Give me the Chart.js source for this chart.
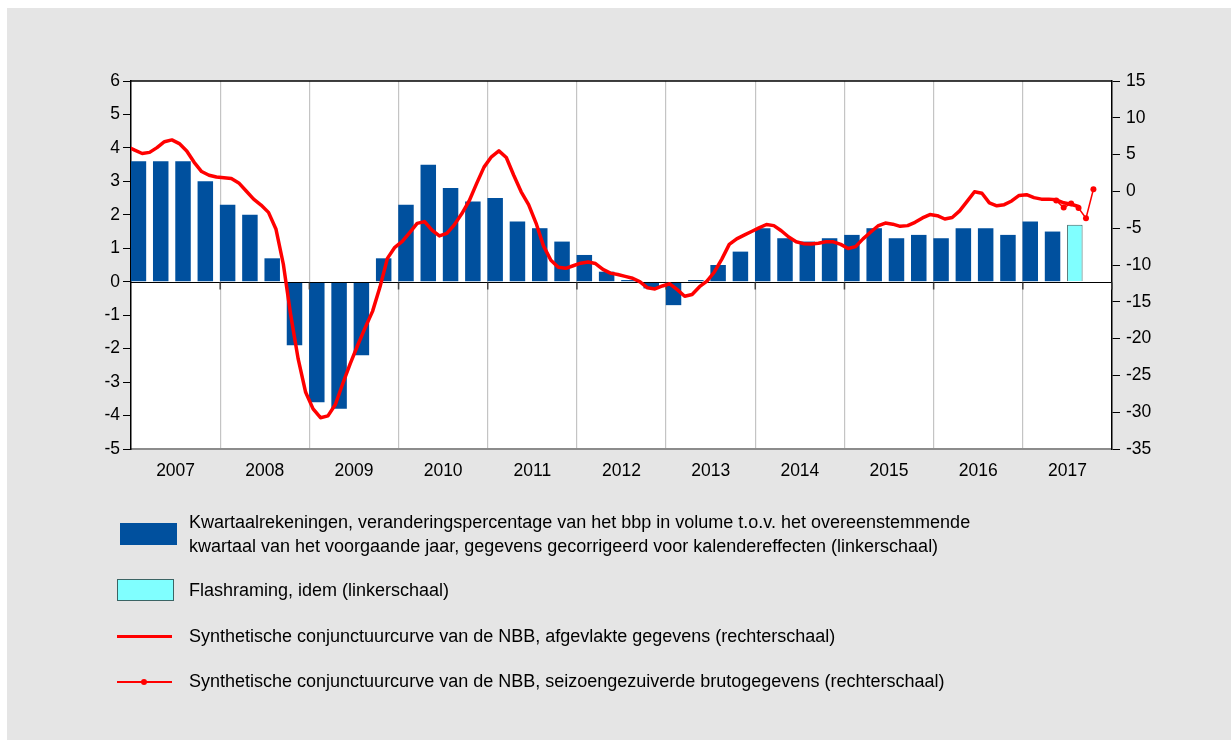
<!DOCTYPE html>
<html>
<head>
<meta charset="utf-8">
<script src="https://cdn.jsdelivr.net/npm/chart.js@4.4.1/dist/chart.umd.min.js"></script>
<style>
html,body{margin:0;padding:0;background:#fff;width:1231px;height:740px;overflow:hidden;font-family:"Liberation Sans",Arial,sans-serif;}
#panel{position:absolute;left:7px;top:8px;width:1224px;height:732px;background:#e5e5e5;}
#wrap{position:absolute;left:0;top:0;width:1231px;height:740px;}
#legend{position:absolute;left:0;top:0;width:1231px;height:740px;pointer-events:none;}
.sw{position:absolute;box-sizing:border-box;}
.lt{position:absolute;left:189px;font-size:18px;line-height:23.5px;color:#000;white-space:nowrap;}
</style>
</head>
<body>
<div id="panel"></div>
<div id="wrap"><canvas id="c" width="1231" height="740"></canvas></div>
<div id="legend">
  <div class="sw" style="left:120px;top:523px;width:57px;height:22px;background:#00509E;"></div>
  <div class="lt" style="top:511px;">Kwartaalrekeningen, veranderingspercentage van het bbp in volume t.o.v. het overeenstemmende<br>kwartaal van het voorgaande jaar, gegevens gecorrigeerd voor kalendereffecten (linkerschaal)</div>
  <div class="sw" style="left:117px;top:579px;width:57px;height:22px;background:#80FFFF;border:1px solid #3C6464;"></div>
  <div class="lt" style="top:579px;">Flashraming, idem (linkerschaal)</div>
  <div class="sw" style="left:117px;top:635px;width:55px;height:3px;background:#FF0000;"></div>
  <div class="lt" style="top:625px;">Synthetische conjunctuurcurve van de NBB, afgevlakte gegevens (rechterschaal)</div>
  <div class="sw" style="left:117px;top:681px;width:55px;height:1.5px;background:#FF0000;"></div>
  <div class="sw" style="left:141px;top:679px;width:6px;height:6px;border-radius:3px;background:#FF0000;"></div>
  <div class="lt" style="top:670px;">Synthetische conjunctuurcurve van de NBB, seizoengezuiverde brutogegevens (rechterschaal)</div>
</div>
<script>
// ---------- DATA ----------
const years = ['2007','2008','2009','2010','2011','2012','2013','2014','2015','2016','2017'];
const quarterNames = ['Q1','Q2','Q3','Q4'];
const quarterLabels = years.flatMap(y => quarterNames.map(q => y + q));

// Quarterly GDP growth y-o-y (%), 2007Q1 .. 2017Q2 (left scale)
const gdpGrowth = [3.6, 3.6, 3.6, 3.0,
                   2.3, 2.0, 0.7, -1.9,
                   -3.6, -3.8, -2.2, 0.7,
                   2.3, 3.5, 2.8, 2.4,
                   2.5, 1.8, 1.6, 1.2,
                   0.8, 0.3, 0.05, -0.2,
                   -0.7, 0.05, 0.5, 0.9,
                   1.6, 1.3, 1.2, 1.3,
                   1.4, 1.6, 1.3, 1.4,
                   1.3, 1.6, 1.6, 1.4,
                   1.8, 1.5];
// Flash estimate (left scale)
const flashQuarters = ['2017Q3'];
const flashValues = [1.7];

// NBB synthetic business cycle curve, smoothed, monthly from Dec 2006 (right scale)
const smoothedStart = '2006-12';
const smoothedValues = [
  6.1, 5.6, 5.15, 5.3, 5.95, 6.75, 7.0, 6.5, 5.5, 3.95, 2.7, 2.2, 1.95,
  1.85, 1.75, 1.15, 0.05, -1.05, -1.85, -2.85, -5.1, -9.9, -16.85, -22.8, -27.3,
  -29.55, -30.75, -30.5, -28.95, -26.1, -23.4, -20.9, -18.55, -16.3, -13.0, -9.1, -7.6,
  -6.8, -5.6, -4.35, -4.1, -5.25, -6.05, -5.7, -4.55, -3.05, -1.3, 1.05, 3.3,
  4.7, 5.5, 4.6, 2.2, -0.05, -1.8, -4.3, -7.4, -9.35, -10.3, -10.45, -10.1,
  -9.75, -9.6, -9.8, -10.6, -11.1, -11.3, -11.55, -11.8, -12.3, -13.1, -13.25, -12.85,
  -12.55, -13.35, -14.25, -14.0, -12.95, -12.2, -10.95, -9.2, -7.2, -6.45, -5.95, -5.45,
  -4.95, -4.5, -4.65, -5.35, -6.2, -6.85, -7.1, -7.15, -7.05, -6.85, -6.85, -7.2,
  -7.75, -7.5, -6.45, -5.55, -4.7, -4.3, -4.45, -4.75, -4.65, -4.2, -3.6, -3.15,
  -3.3, -3.75, -3.55, -2.65, -1.35, -0.05, -0.25, -1.55, -1.95, -1.8, -1.3, -0.55,
  -0.45, -0.85, -1.05, -1.05, -1.15, -1.55, -1.75, -2.05
];
// NBB curve, seasonally adjusted raw data, monthly from May 2017 (right scale)
const rawStart = '2017-05';
const rawValues = [-1.25, -2.2, -1.65, -2.25, -3.65, 0.3];

const leftTicks = {min: -5, max: 6, step: 1};
const rightTicks = {min: -35, max: 15, step: 5};

// ---------- helpers (x = months since Jan 2007) ----------
const baseYear = 2007;
function monthIndex(s){ const [y,m] = s.split('-').map(Number); return (y-baseYear)*12 + (m-1); }
function quarterX(label){ const y = Number(label.slice(0,4)); const q = Number(label.slice(5)); return (y-baseYear)*12 + (q-1)*3 + 1; }
function monthlyPoints(start, vals){ const m0 = monthIndex(start); return vals.map((v,i)=>({x: m0 + i + 0.5, y: v})); }

const gdpPts = gdpGrowth.map((v,i)=>({x: quarterX(quarterLabels[i]), y: v}));
const flashPts = flashValues.map((v,i)=>({x: quarterX(flashQuarters[i]), y: v}));
const smoothPts = monthlyPoints(smoothedStart, smoothedValues);
const rawPts = monthlyPoints(rawStart, rawValues);
const xMax = years.length * 12;

const FONT = '"Liberation Sans", Arial, sans-serif';

const framePlugin = {
  id: 'frame',
  beforeDraw(chart){
    const {ctx, chartArea} = chart;
    ctx.save();
    ctx.fillStyle = '#FFFFFF';
    ctx.fillRect(chartArea.left, chartArea.top, chartArea.right - chartArea.left, chartArea.bottom - chartArea.top);
    ctx.restore();
  },
  afterDatasetDraw(chart, args){
    if (args.index !== 3) return;
    const {ctx, chartArea} = chart;
    const yL = chart.scales.yL, x = chart.scales.x;
    const y0 = Math.round(yL.getPixelForValue(0)) + 0.5;
    ctx.save();
    ctx.strokeStyle = '#000';
    ctx.lineWidth = 1.2;
    ctx.beginPath(); ctx.moveTo(chartArea.left, y0); ctx.lineTo(chartArea.right, y0); ctx.stroke();
    ctx.strokeStyle = '#444';
    ctx.lineWidth = 1.5;
    for (let i = 1; i <= years.length; i++) {
      const px = x.getPixelForValue(12*i);
      ctx.beginPath(); ctx.moveTo(px, y0); ctx.lineTo(px, y0 + 7); ctx.stroke();
    }
    ctx.restore();
  },
  afterDraw(chart){
    const {ctx, chartArea} = chart;
    ctx.save();
    ctx.strokeStyle = '#000';
    ctx.lineWidth = 1.5;
    ctx.beginPath(); ctx.moveTo(chartArea.left, chartArea.top); ctx.lineTo(chartArea.right, chartArea.top); ctx.stroke();
    ctx.restore();
  }
};

new Chart(document.getElementById('c'), {
  type: 'bar',
  data: {
    datasets: [
      {type:'line', label:'Synthetische conjunctuurcurve van de NBB, afgevlakte gegevens (rechterschaal)',
       data: smoothPts, xAxisID:'x', yAxisID:'yR', borderColor:'#FF0000', backgroundColor:'#FF0000',
       borderWidth:3.5, pointRadius:0, tension:0, borderJoinStyle:'round', borderCapStyle:'round', order:1},
      {type:'line', label:'Synthetische conjunctuurcurve van de NBB, seizoengezuiverde brutogegevens (rechterschaal)',
       data: rawPts, xAxisID:'x', yAxisID:'yR', borderColor:'#FF0000', backgroundColor:'#FF0000',
       borderWidth:1.5, pointRadius:3, pointBorderWidth:0, pointBackgroundColor:'#FF0000', tension:0, order:0},
      {type:'bar', label:'Kwartaalrekeningen', data: gdpPts, xAxisID:'x', yAxisID:'yL',
       backgroundColor:'#00509E', borderWidth:0, barPercentage:0.695, categoryPercentage:1, grouped:false, order:3},
      {type:'bar', label:'Flashraming, idem (linkerschaal)', data: flashPts, xAxisID:'x', yAxisID:'yL',
       backgroundColor:'#80FFFF', borderColor:'#3C6464', borderWidth:1, barPercentage:0.695, categoryPercentage:1, grouped:false, order:2}
    ]
  },
  options: {
    responsive:false, animation:false, devicePixelRatio:1,
    layout:{padding:{top:81, left:0, right:0, bottom:0}},
    plugins:{legend:{display:false}, tooltip:{enabled:false}},
    scales:{
      x:{
        type:'linear', min:0, max:xMax, offset:false,
        afterBuildTicks: s => { s.ticks = years.map((y,i)=>({value: 12*i + 6})); },
        ticks:{callback: v => years[Math.floor(v/12)], autoSkip:false, maxRotation:0,
               font:{size:17.5, family:FONT}, color:'#000', padding:12},
        grid:{offset:true, drawTicks:false, lineWidth:1.2,
              color: c => (c.index > 0 && c.index < years.length) ? '#C4C4C4' : 'rgba(0,0,0,0)'},
        border:{color:'#8C8C8C', width:2},
        afterFit: s => { s.height = 740 - 449; }
      },
      yL:{
        type:'linear', position:'left', min:leftTicks.min, max:leftTicks.max,
        ticks:{stepSize:leftTicks.step, font:{size:17.5, family:FONT}, color:'#000', padding:3},
        grid:{drawOnChartArea:false, tickLength:8, color:'#000', lineWidth:1},
        border:{color:'#000', width:1.5},
        afterFit: s => { s.width = 131; }
      },
      yR:{
        type:'linear', position:'right', min:rightTicks.min, max:rightTicks.max,
        ticks:{stepSize:rightTicks.step, font:{size:17.5, family:FONT}, color:'#000', padding:6},
        grid:{drawOnChartArea:false, tickLength:8, color:'#000', lineWidth:1},
        border:{color:'#000', width:1.5},
        afterFit: s => { s.width = 1231 - 1112; }
      }
    }
  },
  plugins:[framePlugin]
});
</script>
</body>
</html>
